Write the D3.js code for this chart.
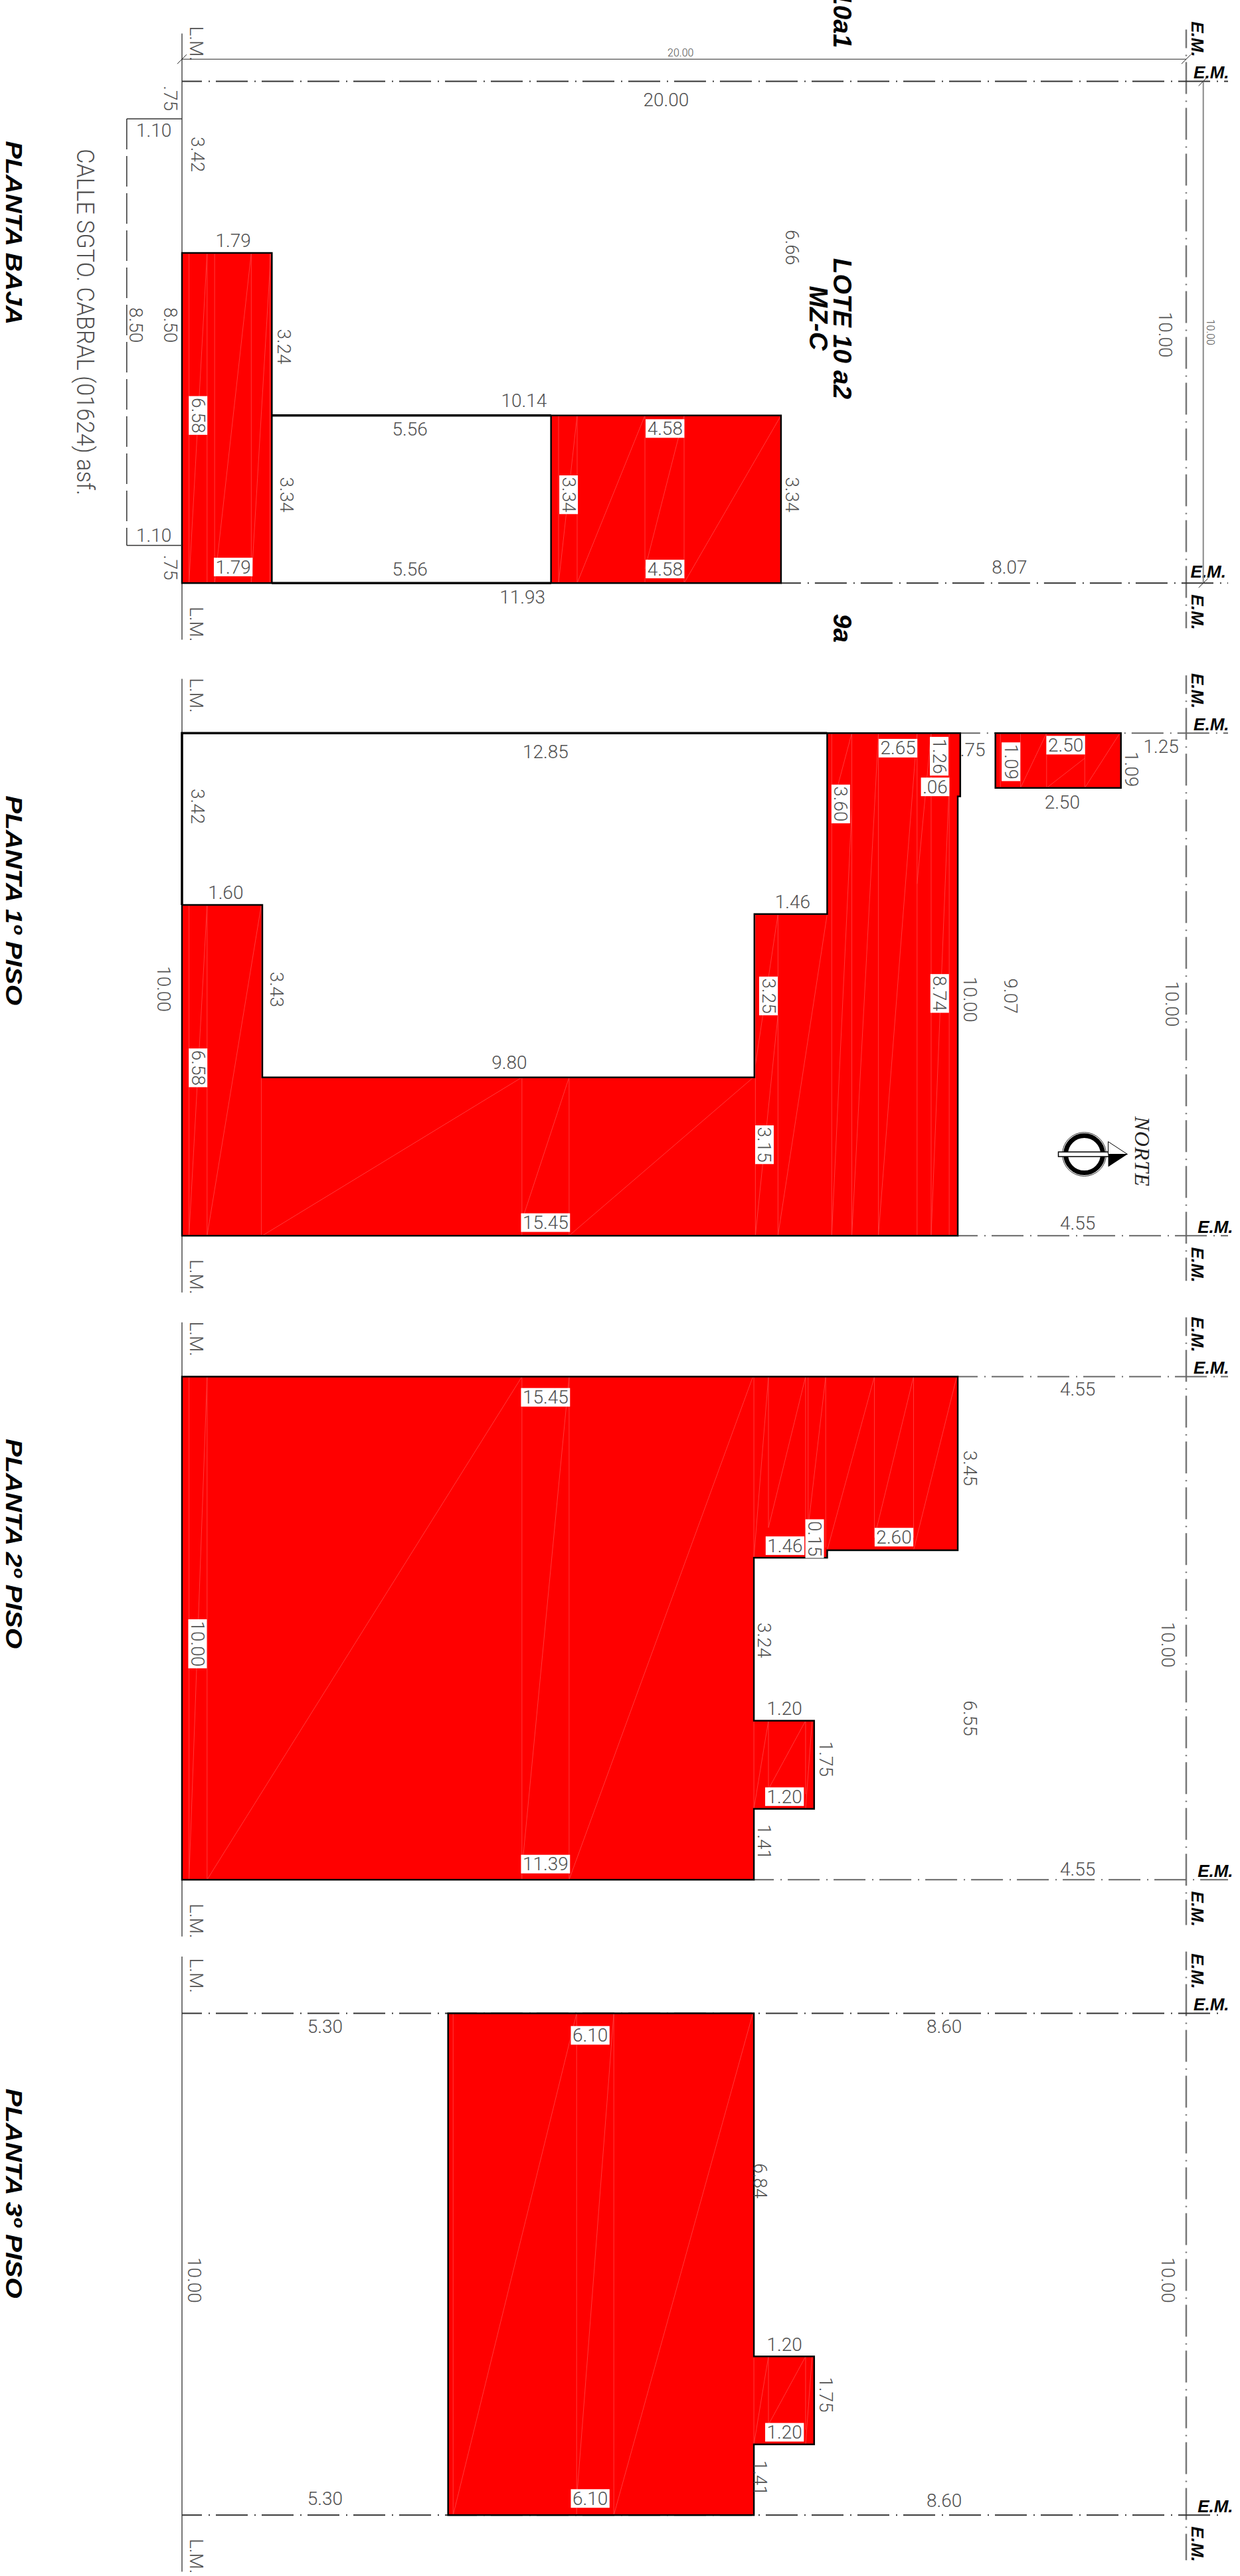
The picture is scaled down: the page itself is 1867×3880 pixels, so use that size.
<!DOCTYPE html>
<html>
<head>
<meta charset="utf-8">
<script src="https://cdn.jsdelivr.net/npm/d3@7"></script>
<style>
    html, body { margin: 0; padding: 0; background: #fff; }
    svg { display: block; }
    .dim { font-family: Roboto, sans-serif; font-weight: 300; font-size: 28px; fill: #505050; }
    .small { font-size: 16px; }
    .bold { font-family: "Liberation Sans", sans-serif; font-weight: bold; font-style: italic; fill: #000; }
</style>
</head>
<body>
<div id="chart"></div>
<script>
document.addEventListener("DOMContentLoaded", () => {

    // Floors
    const floorTitles = ["PLANTA BAJA", "PLANTA 1º PISO", "PLANTA 2º PISO", "PLANTA 3º PISO"];
    const lotWidth = 20, lotDepth = 10;

    // Built area outlines, metres along the lot
    const groundRed = [
        [[0, 3.42], [1.79, 3.42], [1.79, 10], [0, 10]],
        [[7.35, 6.66], [11.93, 6.66], [11.93, 10], [7.35, 10]]
    ];
    const firstRed = [
        [[0, 3.42], [1.6, 3.42], [1.6, 6.85], [11.4, 6.85], [11.4, 3.6], [12.85, 3.6], [12.85, 0], [15.5, 0], [15.5, 1.26], [15.45, 1.26], [15.45, 10], [0, 10]],
        [[16.2, 0], [18.7, 0], [18.7, 1.09], [16.2, 1.09]]
    ];
    const secondRed = [
        [[0, 0], [15.45, 0], [15.45, 3.45], [12.85, 3.45], [12.85, 3.6], [11.39, 3.6], [11.39, 6.84], [12.59, 6.84], [12.59, 8.59], [11.39, 8.59], [11.39, 10], [0, 10]]
    ];
    const thirdRed = [
        [[5.3, 0], [11.39, 0], [11.39, 6.84], [12.59, 6.84], [12.59, 8.59], [11.39, 8.59], [11.39, 10], [5.3, 10]]
    ];

    // Heavy wall lines round the open patios
    const groundWalls = [[[1.79, 6.66], [7.35, 6.66]], [[1.79, 10], [7.35, 10]]];
    const firstWalls = [[[0, 3.42], [0, 0], [12.85, 0]]];

    // Faint triangulation of the solid fill
    const groundHatch = [
        [.14, 3.42, .14, 10], [.5, 3.42, .5, 10], [.65, 3.42, .65, 10], [1.38, 3.42, 1.38, 10], [1.75, 3.42, 1.75, 10],
        [.14, 10, .5, 3.42], [.65, 10, 1.38, 3.42], [1.38, 10, 1.77, 3.42],
        [7.5, 6.66, 7.5, 10], [7.87, 6.66, 7.87, 10], [7.5, 10, 7.87, 6.66], [7.87, 10, 9.22, 6.66],
        [9.22, 6.66, 9.22, 10], [10, 6.66, 10, 10], [9.22, 9.72, 10, 6.66], [10, 10, 11.93, 6.66]
    ];
    const firstHatch = [
        [.14, 3.42, .14, 10], [.5, 3.42, .5, 10], [1.58, 3.42, 1.58, 10],
        [.14, 10, .5, 3.42], [.5, 10, 1.58, 3.42], [1.6, 10, 6.77, 6.85],
        [6.77, 6.85, 6.77, 10], [7.71, 6.85, 7.71, 10], [6.77, 9.7, 7.71, 6.85], [7.71, 10, 11.38, 6.85],
        [11.42, 3.6, 11.42, 10], [11.87, 3.6, 11.87, 10], [11.42, 6.6, 11.87, 3.6], [11.42, 10, 11.87, 5.6], [11.87, 10, 12.85, 3.6],
        [12.94, 0, 12.94, 10], [13.34, 0, 13.34, 10], [13.87, 0, 13.87, 10], [14.64, 0, 14.64, 10], [14.92, 0, 14.92, 10], [15.28, 0, 15.28, 10],
        [12.94, 1.5, 13.34, 0], [12.94, 10, 13.34, 1.5], [13.34, 10, 13.87, 0], [13.87, 10, 14.64, 0], [14.64, 3, 14.92, 0], [14.92, 10, 15.28, 1]
    ];
    const firstHatchRoom = [
        [16.3, 0, 16.3, 1.09], [16.7, 0, 16.7, 1.09], [17.22, 0, 17.22, 1.09], [17.98, 0, 17.98, 1.09],
        [16.7, 1.09, 17.22, 0], [17.22, 1.09, 17.98, .5], [17.98, 1.09, 18.68, 0]
    ];
    const secondHatch = [
        [.14, 0, .14, 10], [.5, 0, .5, 10], [.14, 10, .5, 0], [.5, 10, 6.77, 0],
        [6.77, 0, 6.77, 10], [7.71, 0, 7.71, 10], [6.77, 9.8, 7.71, 0], [7.71, 10, 11.37, 0],
        [11.39, 0, 11.39, 3.6], [11.68, 0, 11.68, 3], [12.42, 0, 12.42, 3], [12.47, 0, 12.47, 3], [12.82, 0, 12.82, 3.4], [13.79, 0, 13.79, 3.2], [14.57, 0, 14.57, 3.2],
        [11.39, 3.6, 11.68, 0], [11.68, 3, 12.42, 0], [12.47, 3, 12.82, 0], [12.85, 3.45, 13.79, 0], [13.79, 3.2, 14.57, 0], [14.57, 3.45, 15.43, 0],
        [11.39, 6.84, 11.39, 8.59], [11.68, 6.84, 11.68, 8.3], [12.42, 6.84, 12.42, 8.3], [11.39, 8.59, 11.68, 6.84], [11.68, 8.2, 12.42, 6.84], [12.42, 8.59, 12.55, 6.84]
    ];
    const thirdHatch = [
        [5.4, 0, 5.4, 10], [7.86, 0, 7.86, 10], [8.6, 0, 8.6, 10], [5.4, 10, 7.86, 0], [7.86, 9.7, 8.6, 0], [8.6, 10, 11.37, 0],
        [11.39, 6.84, 11.39, 8.59], [11.68, 6.84, 11.68, 8.3], [12.42, 6.84, 12.42, 8.3], [11.39, 8.59, 11.68, 6.84], [11.68, 8.2, 12.42, 6.84], [12.42, 8.59, 12.55, 6.84]
    ];

    // Dimension texts of each floor
    const groundDims = [".75", "1.10", "3.42", "1.79", "8.50", "8.50", "3.24", "10.14", "5.56", "6.58", "3.34", "3.34", "1.10", ".75", "1.79", "5.56", "11.93", "20.00", "6.66", "10.00", "4.58", "3.34", "4.58", "8.07"];
    const firstDims = ["12.85", "3.42", "1.60", "10.00", "3.43", "9.80", "6.58", "15.45", "2.65", "1.26", ".75", "1.09", "2.50", "1.25", "1.09", ".06", "2.50", "3.60", "1.46", "8.74", "3.25", "10.00", "9.07", "10.00", "3.15", "4.55"];
    const secondDims = ["15.45", "10.00", "11.39", "4.55", "3.45", "0.15", "1.46", "2.60", "3.24", "10.00", "6.55", "1.20", "1.75", "1.20", "1.41", "4.55"];
    const thirdDims = ["5.30", "6.10", "10.00", "5.30", "6.10", "8.60", "6.84", "10.00", "1.20", "1.75", "1.20", "1.41", "8.60"];

    // Where those texts sit, metres: x, y, h/v (horizontal, vertical), b = white box behind
    const groundSpots = [[-.23, .34, "v"], [-.56, .98, "h"], [.31, 1.46, "v"], [1.02, 3.18, "h"], [-.92, 4.86, "v"], [-.23, 4.86, "v"], [2.03, 5.29, "v"], [6.81, 6.37, "h"], [4.54, 6.93, "h"], [.32, 6.66, "vb"], [2.08, 8.24, "v"], [7.7, 8.24, "vb"], [-.56, 9.05, "h"], [-.23, 9.69, "v"], [1.02, 9.68, "hb"], [4.54, 9.72, "h"], [6.78, 10.28, "h"], [9.64, .37, "h"], [12.15, 3.31, "v"], [19.58, 5.05, "v"], [9.62, 6.92, "hb"], [12.15, 8.24, "v"], [9.62, 9.72, "hb"], [16.48, 9.68, "h"]];
    const firstSpots = [[7.24, .37, "h"], [.31, 1.46, "v"], [.87, 3.17, "h"], [-.36, 5.09, "v"], [1.88, 5.1, "v"], [6.52, 6.55, "h"], [.32, 6.66, "vb"], [7.24, 9.74, "hb"], [14.26, .3, "hb"], [15.08, .46, "vb"], [15.75, .33, "h"], [16.51, .57, "vb"], [17.6, .24, "hb"], [19.5, .27, "h"], [18.91, .72, "v"], [15, 1.07, "hb"], [17.53, 1.38, "h"], [13.12, 1.41, "vb"], [12.16, 3.36, "h"], [15.09, 5.18, "vb"], [11.68, 5.23, "vb"], [15.7, 5.3, "v"], [16.5, 5.23, "v"], [19.72, 5.39, "v"], [11.6, 8.19, "vb"], [17.84, 9.75, "h"]];
    const secondSpots = [[7.24, .41, "hb"], [.31, 5.31, "vb"], [7.24, 9.69, "hb"], [17.84, .25, "h"], [15.69, 1.82, "v"], [12.6, 3.22, "vb"], [12.01, 3.36, "hb"], [14.18, 3.19, "hb"], [11.6, 5.24, "v"], [19.63, 5.33, "v"], [15.69, 6.79, "v"], [12, 6.6, "h"], [12.82, 7.6, "v"], [12, 8.35, "hb"], [11.6, 9.25, "v"], [17.84, 9.79, "h"]];
    const thirdSpots = [[2.85, .26, "h"], [8.13, .44, "hb"], [.24, 5.32, "v"], [2.85, 9.67, "h"], [8.13, 9.67, "hb"], [15.18, .26, "h"], [11.51, 3.34, "v"], [19.63, 5.32, "v"], [12, 6.6, "h"], [12.82, 7.6, "v"], [12, 8.35, "hb"], [11.51, 9.26, "v"], [15.18, 9.71, "h"]];

    // Layout
    const floorTop = [122.4, 1104.2, 2073.6, 3032.4];
    const floorBottom = [878.2, 1861.2, 2831.2, 3788.2];
    const titleY = [3.02, 3.33, 3.32, 3.59];
    const titleLength = [277, 316, 316, 316];
    const lmTop = [-.95, -1.08, -1.08, -1.13];
    const emTop = [-1.03, -1.15, -1.18, -1.23];
    const axisFrom = [0, 15.5, 15.45, 0], axisBottomFrom = [11.93, 15.45, 11.39, 0];
    const axisOverrun = [63, 63, 63, 57];
    const axisColours = ["#333", "#666", "#666", "#333"];

    const width = 1867, height = 3880;
    const x = d3.scaleLinear().domain([0, lotWidth]).range([274, 1786]);

    const svg = d3.select("#chart").append("svg")
        .attr("width", width)
        .attr("height", height)
        .attr("viewBox", `0 0 ${width} ${height}`);

    const floors = [
        { red: groundRed, walls: groundWalls, hatch: groundHatch, dims: groundDims, spots: groundSpots },
        { red: firstRed, walls: firstWalls, hatch: firstHatch.concat(firstHatchRoom), dims: firstDims, spots: firstSpots },
        { red: secondRed, walls: [], hatch: secondHatch, dims: secondDims, spots: secondSpots },
        { red: thirdRed, walls: [], hatch: thirdHatch, dims: thirdDims, spots: thirdSpots }
    ];

    const axisLine = "48 10 2 9"; // long dash, dot
    const solid = g => g.attr("fill", "none").attr("stroke", "#000").attr("stroke-linejoin", "miter");

    function seg(g, x1, y1, x2, y2, stroke, w, dash, offset) {
        return g.append("line")
            .attr("x1", x1).attr("y1", y1).attr("x2", x2).attr("y2", y2)
            .attr("stroke", stroke).attr("stroke-width", w)
            .attr("stroke-dasharray", dash || null)
            .attr("stroke-dashoffset", offset || null);
    }

    function label(g, px, py, txt, vertical, cls, size) {
        const t = g.append("text")
            .attr("class", cls)
            .attr("text-anchor", "middle")
            .attr("dominant-baseline", "central")
            .attr("transform", `translate(${px},${py})${vertical ? " rotate(90)" : ""}`)
            .text(txt);
        if (size) t.style("font-size", size + "px");
        return t;
    }

    floors.forEach((f, i) => {
        const y = d3.scaleLinear().domain([0, lotDepth]).range([floorTop[i], floorBottom[i]]);
        const line = d3.line().x(d => x(d[0])).y(d => y(d[1]));
        const g = svg.append("g").attr("class", "floor");

        // Lot limits
        seg(g, x(0), y(lmTop[i]), x(0), y(11.13), "#777", 2);
        seg(g, x(lotWidth), y(emTop[i]), x(lotWidth), y(10.9), "#777", 2.5, axisLine, 20);

        const edgeEnd = x(lotWidth) + axisOverrun[i];
        seg(g, x(axisFrom[i]), y(0), edgeEnd, y(0), axisColours[i], 2, axisLine, 18);
        seg(g, x(axisBottomFrom[i]), y(lotDepth), edgeEnd, y(lotDepth), axisColours[i], 2, axisLine, 18);

        // Solid fill
        f.red.forEach(poly => {
            g.append("path").attr("d", line(poly) + "Z").attr("fill", "#ff0000");
        });
        g.selectAll(".hatch").data(f.hatch).enter().append("line")
            .attr("class", "hatch")
            .attr("x1", d => x(d[0])).attr("y1", d => y(d[1]))
            .attr("x2", d => x(d[2])).attr("y2", d => y(d[3]))
            .attr("stroke", "#ff4040").attr("stroke-width", .9);
        f.red.forEach(poly => {
            g.append("path").attr("d", line(poly) + "Z").call(solid).attr("stroke-width", 2.5);
        });
        f.walls.forEach(w => {
            g.append("path").attr("d", line(w)).call(solid).attr("stroke-width", 3.5);
        });

        // Dimensions
        f.dims.forEach((txt, k) => {
            const [mx, my, kind] = f.spots[k];
            const vertical = kind[0] === "v";
            const t = label(g, x(mx), y(my), txt, vertical, "dim");
            if (kind[1] === "b") {
                const len = t.node().getComputedTextLength() + 5, thick = 28;
                g.insert("rect", () => t.node())
                    .attr("x", x(mx) - (vertical ? thick : len) / 2)
                    .attr("y", y(my) - (vertical ? len : thick) / 2)
                    .attr("width", vertical ? thick : len)
                    .attr("height", vertical ? len : thick)
                    .attr("fill", "#fff");
            }
        });

        // Street and boundary labels
        label(g, x(.28), y(-.75), "L.M.", true, "dim");
        label(g, x(.28), y(10.82), "L.M.", true, "dim");
        label(g, x(20.23), y(-.84), "E.M.", true, "bold", 26);
        label(g, x(20.5), y(-.18), "E.M.", false, "bold", 26);
        label(g, x(i === 0 ? 20.44 : 20.58), y(i === 0 ? 9.77 : 9.83), "E.M.", false, "bold", 26);
        label(g, x(20.23), y(10.58), "E.M.", true, "bold", 26);
        label(g, x(-3.34), y(titleY[i]), floorTitles[i], true, "bold", 35)
            .attr("textLength", titleLength[i]).attr("lengthAdjust", "spacingAndGlyphs");

        if (i === 0) {
            const tick = (mx, my) => seg(g, x(mx) - 7, y(my) + 7, x(mx) + 7, y(my) - 7, "#222", 1);

            // Overall dimensions
            seg(g, x(0), y(-.44), x(lotWidth), y(-.44), "#222", 1);
            tick(0, -.44); tick(lotWidth, -.44);
            seg(g, x(20.34), y(0), x(20.34), y(lotDepth), "#888", 2);
            tick(20.34, 0); tick(20.34, lotDepth);
            label(g, x(9.93), y(-.57), "20.00", false, "dim small");
            label(g, x(20.48), y(5), "10.00", true, "dim small");

            // Sidewalk bracket
            seg(g, x(-1.1), y(.75), x(0), y(.75), "#333", 1.5);
            seg(g, x(-1.1), y(9.25), x(0), y(9.25), "#333", 1.5);
            seg(g, x(-1.1), y(.75), x(-1.1), y(9.25), "#333", 1.5, "46 10");

            // Street and lot names
            label(g, x(-1.92), y(4.8), "CALLE SGTO. CABRAL (01624) asf.", true, "dim", 37)
                .attr("textLength", 522).attr("lengthAdjust", "spacingAndGlyphs");
            label(g, x(13.16), y(4.93), "LOTE 10 a2", true, "bold", 39);
            label(g, x(12.68), y(4.72), "MZ-C", true, "bold", 39);
            label(g, x(13.16), y(-.66), "10a1", true, "bold", 39).attr("text-anchor", "end");
            label(g, x(13.16), y(10.9), "9a", true, "bold", 39);
        }

        if (i === 1) {
            // North mark
            const cx = x(17.97), cy = y(8.38);
            const n = g.append("g").attr("transform", `translate(${cx},${cy})`);
            n.append("circle").attr("r", 28).attr("fill", "none").attr("stroke", "#000").attr("stroke-width", 7);
            n.append("circle").attr("r", 33).attr("fill", "none").attr("stroke", "#000").attr("stroke-width", .8);
            n.append("rect").attr("x", -39).attr("y", -3.5).attr("width", 78).attr("height", 7)
                .attr("fill", "#fff").attr("stroke", "#000").attr("stroke-width", 1.5);
            n.append("path").attr("d", "M36,0L65,0L36,-19Z").attr("fill", "#fff").attr("stroke", "#000").attr("stroke-width", 1);
            n.append("path").attr("d", "M36,0L65,0L36,19Z").attr("fill", "#000");
            g.append("text")
                .attr("text-anchor", "middle")
                .attr("dominant-baseline", "central")
                .attr("transform", `translate(${x(19.13)},${y(8.32)}) rotate(90)`)
                .attr("textLength", 105)
                .style("font-family", "'Liberation Serif', serif")
                .style("font-style", "italic")
                .style("font-size", "32px")
                .style("fill", "#222")
                .text("NORTE");
        }
    });
});
</script>
</body>
</html>
